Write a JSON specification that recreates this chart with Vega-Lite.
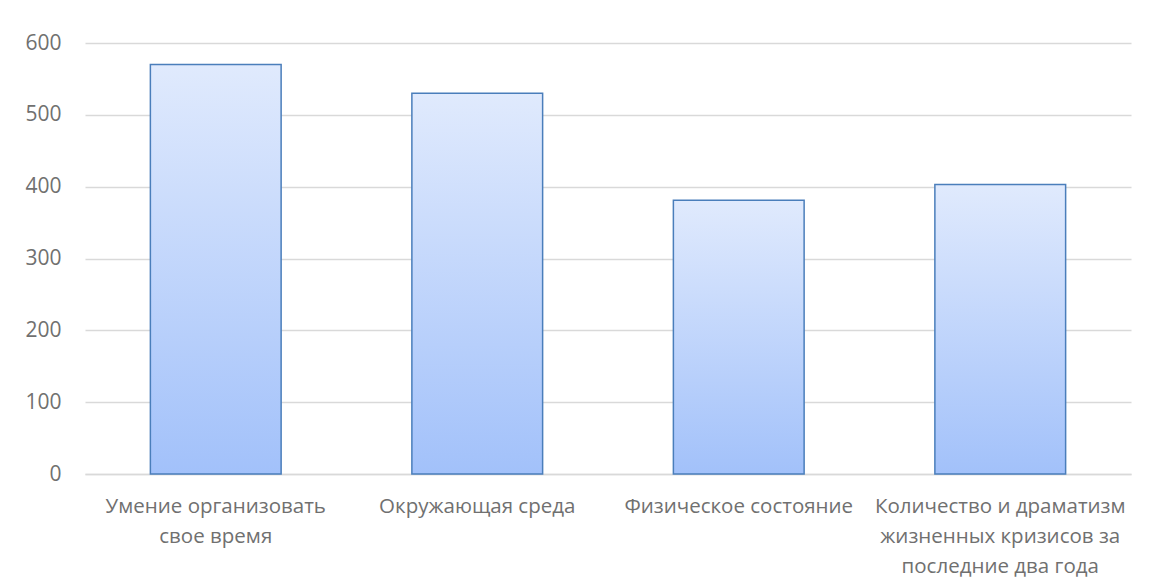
{
  "$schema": "https://vega.github.io/schema/vega-lite/v6.json",
  "autosize": "none",
  "width": 1046,
  "height": 431,
  "padding": {"left": 85, "top": 43, "right": 18, "bottom": 113},
  "background": "white",
  "config": {
    "view": {"stroke": null},
    "font": "Open Sans"
  },
  "data": {
    "values": [
      {"category": "Умение организовать|свое время", "value": 570},
      {"category": "Окружающая среда", "value": 530},
      {"category": "Физическое состояние", "value": 381},
      {"category": "Количество и драматизм|жизненных кризисов за|последние два года", "value": 403}
    ]
  },
  "mark": {
    "type": "bar",
    "color": {
      "gradient": "linear",
      "x1": 0, "y1": 0, "x2": 0, "y2": 1,
      "stops": [
        {"offset": 0, "color": "#e0eafd"},
        {"offset": 1, "color": "#a2c1fa"}
      ]
    },
    "stroke": "#4a7ebb",
    "strokeWidth": 1.5
  },
  "encoding": {
    "x": {
      "field": "category",
      "type": "nominal",
      "sort": null,
      "scale": {"paddingInner": 0.5, "paddingOuter": 0.25},
      "axis": {
        "title": null,
        "labelAngle": 0,
        "labelExpr": "split(datum.label, '|')",
        "labelFont": "Open Sans",
        "labelFontSize": 20.5,
        "labelColor": "#707070",
        "labelLineHeight": 30,
        "labelPadding": 22,
        "labelBaseline": "top",
        "ticks": false,
        "domain": true,
        "domainColor": "#d9d9d9",
        "domainWidth": 1.5,
        "labelLimit": 400
      }
    },
    "y": {
      "field": "value",
      "type": "quantitative",
      "scale": {"domain": [0, 600], "nice": false},
      "axis": {
        "title": null,
        "values": [0, 100, 200, 300, 400, 500, 600],
        "labelFont": "Open Sans",
        "labelFontSize": 21,
        "labelColor": "#707070",
        "labelPadding": 24,
        "ticks": false,
        "domain": false,
        "grid": true,
        "gridColor": "#d9d9d9",
        "gridWidth": 1.5
      }
    }
  }
}
